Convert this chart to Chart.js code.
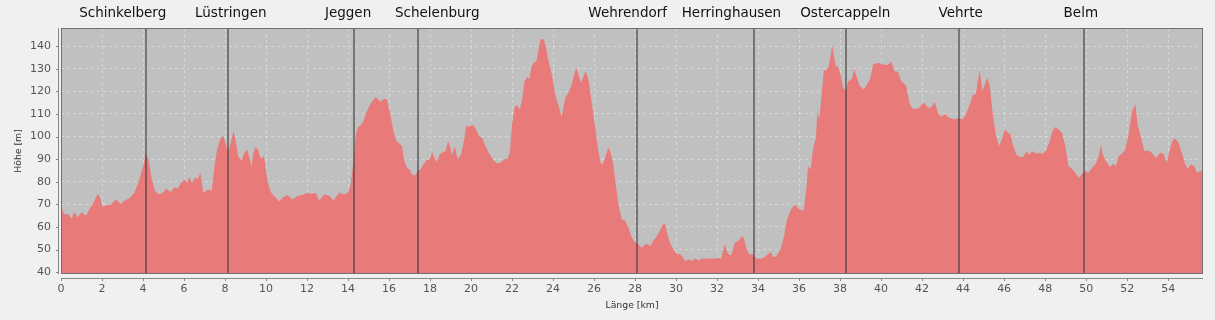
<!DOCTYPE html>
<html>
<head>
<meta charset="utf-8">
<script src="https://cdn.jsdelivr.net/npm/chart.js@4.4.0/dist/chart.umd.min.js"></script>
<style>
  html, body { margin: 0; padding: 0; background: #f0f0f0; }
  canvas { display: block; }
</style>
</head>
<body>
<canvas id="profil" width="1215" height="320"></canvas>
<script>
// Höhenprofil – Strecke Schinkelberg .. Belm
const distKm = [
  0, 0.16, 0.33, 0.52, 0.65, 0.81, 1.0, 1.22, 1.38, 1.59, 1.79, 1.9, 2.03, 2.2, 2.44, 2.68, 2.93, 3.09, 3.33, 3.58,
  3.82, 4.03, 4.15, 4.26, 4.42, 4.59, 4.8, 4.96, 5.15, 5.33, 5.53, 5.69, 5.85, 6.02, 6.15, 6.26, 6.39, 6.54, 6.67, 6.8,
  6.94, 7.1, 7.27, 7.35, 7.48, 7.61, 7.8, 7.93, 8.15, 8.28, 8.41, 8.52, 8.64, 8.8, 8.96, 9.09, 9.17, 9.29, 9.38, 9.5,
  9.61, 9.74, 9.9, 10.07, 10.23, 10.47, 10.64, 10.8, 11.04, 11.29, 11.53, 11.77, 12.02, 12.26, 12.42, 12.59, 12.83, 13.08, 13.29, 13.56,
  13.81, 14.0, 14.13, 14.26, 14.38, 14.49, 14.62, 14.75, 14.91, 15.08, 15.24, 15.35, 15.47, 15.6, 15.76, 15.9, 16.06, 16.23, 16.36, 16.47,
  16.63, 16.75, 16.88, 17.01, 17.12, 17.28, 17.4, 17.53, 17.69, 17.82, 17.98, 18.1, 18.21, 18.34, 18.47, 18.63, 18.75, 18.88, 18.99, 19.09,
  19.2, 19.35, 19.51, 19.64, 19.77, 19.9, 20.05, 20.21, 20.37, 20.54, 20.7, 20.91, 21.11, 21.27, 21.43, 21.63, 21.79, 21.89, 22.0, 22.12,
  22.25, 22.38, 22.49, 22.61, 22.74, 22.84, 22.95, 23.06, 23.19, 23.31, 23.39, 23.55, 23.66, 23.76, 23.94, 24.1, 24.26, 24.42, 24.59, 24.75,
  24.91, 25.03, 25.13, 25.24, 25.35, 25.48, 25.59, 25.72, 25.89, 26.05, 26.21, 26.34, 26.46, 26.59, 26.7, 26.81, 26.94, 27.08, 27.19, 27.35,
  27.51, 27.68, 27.84, 28.0, 28.17, 28.33, 28.49, 28.62, 28.74, 28.86, 29.03, 29.19, 29.35, 29.46, 29.58, 29.74, 29.9, 30.07, 30.2, 30.33,
  30.44, 30.61, 30.77, 30.93, 31.1, 31.26, 31.5, 31.78, 31.89, 32.05, 32.21, 32.37, 32.53, 32.7, 32.86, 33.02, 33.19, 33.27, 33.43, 33.56,
  33.72, 33.92, 34.16, 34.32, 34.49, 34.62, 34.73, 34.89, 35.09, 35.25, 35.41, 35.58, 35.79, 35.95, 36.12, 36.23, 36.36, 36.44, 36.56, 36.69,
  36.82, 36.9, 36.98, 37.1, 37.21, 37.31, 37.42, 37.53, 37.61, 37.7, 37.79, 37.9, 38.02, 38.15, 38.28, 38.39, 38.56, 38.69, 38.8, 38.96,
  39.16, 39.32, 39.48, 39.61, 39.72, 39.84, 40.08, 40.33, 40.49, 40.65, 40.82, 40.98, 41.22, 41.38, 41.51, 41.68, 41.84, 41.95, 42.12, 42.28,
  42.44, 42.61, 42.77, 42.93, 43.1, 43.26, 43.5, 43.75, 43.99, 44.15, 44.32, 44.48, 44.61, 44.72, 44.81, 44.94, 45.05, 45.18, 45.3, 45.43,
  45.59, 45.75, 45.92, 46.03, 46.19, 46.31, 46.44, 46.6, 46.76, 46.93, 47.09, 47.22, 47.38, 47.58, 47.71, 47.87, 48.04, 48.2, 48.36, 48.49,
  48.65, 48.82, 48.98, 49.14, 49.31, 49.47, 49.63, 49.8, 49.96, 50.12, 50.28, 50.45, 50.61, 50.72, 50.8, 50.97, 51.16, 51.32, 51.45, 51.58,
  51.75, 51.91, 52.07, 52.24, 52.4, 52.51, 52.68, 52.84, 53.0, 53.16, 53.33, 53.44, 53.6, 53.77, 53.93, 54.06, 54.22, 54.35, 54.51, 54.68,
  54.84, 54.95, 55.12, 55.28, 55.41, 55.56, 55.7
];
const elevM = [
  69.2, 65.5, 65.8, 63.7, 66.7, 64.3, 66.5, 65, 67.7, 70.7, 74.7, 73.2, 68.9, 69.6, 69.9, 72.2, 70.2, 71.7, 72.6, 75.1,
  81, 87.6, 92.8, 89.9, 81.7, 75.8, 74.4, 75.1, 77, 75.4, 77.6, 76.9, 79.5, 81, 79.5, 82, 79.5, 82, 81, 84.2,
  75.1, 76.1, 76.6, 75.8, 86.2, 94.3, 99.4, 100.2, 93.2, 97.2, 102.4, 98, 91.3, 89.4, 93.2, 94, 91.3, 86.9, 92.8, 95.5,
  94, 90.3, 91.3, 80.3, 75.5, 72.9, 71.4, 72.9, 74.1, 72.2, 73.7, 74.1, 75.1, 74.7, 75.1, 71.7, 74.4, 73.9, 71.7, 75.1,
  74.4, 75.1, 78.8, 89.1, 100.9, 104.2, 105, 106.8, 110.9, 114.2, 116.4, 117.4, 116.4, 115.4, 116.8, 116.4, 109.8, 101.7, 98, 97.2,
  95.8, 89.1, 86.2, 85.4, 83.2, 82.8, 84.7, 85.4, 87.9, 89.4, 89.9, 93.2, 90.6, 88.8, 92.1, 93.2, 93.5, 98, 95, 91.7,
  95.8, 89.9, 92.1, 97.2, 105, 104.2, 105.3, 103.9, 100.6, 99.4, 95.8, 92.1, 89.4, 88.2, 88.4, 89.9, 90.3, 92.8, 105.3, 112.7,
  113.9, 112, 116.4, 124.5, 126.3, 125.3, 131.2, 132.6, 133.4, 139.3, 143, 143, 139.3, 134.1, 127.5, 118.6, 113.9, 108.6, 117.1, 119.4,
  123, 127.5, 130.4, 127.5, 123.8, 126.3, 128.9, 125.3, 114.9, 103.9, 93.5, 87.6, 88.4, 92.1, 95.3, 92.8, 87.6, 77.3, 69.9, 63.3,
  62.9, 59.6, 55.2, 53.4, 52.2, 50.8, 52.2, 52.5, 51.5, 53.7, 55.5, 58.1, 61.1, 61.4, 56.4, 52.2, 49.6, 47.8, 48.1, 46.6,
  44.9, 45.6, 44.9, 46.1, 45.2, 46.1, 45.9, 46.1, 45.9, 46.3, 46.1, 52.5, 48.1, 47.5, 53, 53.7, 55.5, 55.9, 50.8, 47.8,
  48.1, 46.1, 46.1, 46.6, 48.1, 49, 46.6, 47.1, 50.1, 55.2, 63.3, 67.3, 69.9, 68.5, 67.3, 67.7, 77.3, 86.9, 85.4, 95,
  99.4, 112, 107.5, 118.6, 129.7, 129, 130.4, 135.6, 140.4, 135.6, 131.2, 130.7, 127.5, 121.6, 120.1, 124.5, 125.3, 129.7, 126.7, 122.3,
  120.8, 123, 126, 131.9, 132.2, 132.6, 131.9, 131.6, 133.4, 128.9, 128.6, 124.5, 122.7, 114.9, 112.4, 112.4, 112.4, 113.9, 114.9, 112.7,
  113, 115.4, 110.5, 108.6, 110.1, 108.6, 107.6, 108, 107.6, 110.1, 114.2, 118.6, 118.6, 124.5, 129.2, 120.1, 123, 126, 122.3, 111.2,
  100.9, 95.8, 99.4, 103.1, 101.7, 100.9, 95.8, 92.1, 90.9, 90.9, 93.5, 92.1, 93.5, 92.4, 92.8, 92.4, 93.8, 97.2, 102.4, 104.2,
  103.1, 101.7, 95.8, 86.9, 85.8, 84, 81.7, 83.5, 84.7, 84, 86.2, 87.6, 91.3, 96.2, 92.4, 89.1, 86.5, 88, 86.9, 91.3,
  92.4, 94.3, 100.9, 111.2, 114.5, 105.3, 99.4, 93.5, 93.8, 93.2, 91.3, 90.6, 92.8, 92.4, 88.4, 93.5, 98.3, 99.1, 97.2, 92.4,
  87.6, 85.8, 87.6, 86.9, 84, 84.7, 84.4
];

// Orte entlang der Strecke
const placeNames = ['Schinkelberg', 'Lüstringen', 'Jeggen', 'Schelenburg', 'Wehrendorf', 'Herringhausen', 'Ostercappeln', 'Vehrte', 'Belm'];
const placeKm = [4.17, 8.16, 14.3, 17.39, 28.09, 33.78, 38.28, 43.79, 49.88];

const xTicks = [0, 2, 4, 6, 8, 10, 12, 14, 16, 18, 20, 22, 24, 26, 28, 30, 32, 34, 36, 38, 40, 42, 44, 46, 48, 50, 52, 54];
const yTicks = [40, 50, 60, 70, 80, 90, 100, 110, 120, 130, 140];

// Beschriftungen etwas verschoben, damit sie sich nicht überlappen
const labelKm = [3.01, 8.28, 14.0, 18.35, 27.64, 32.7, 38.25, 43.88, 49.74];

const FONT = '"DejaVu Sans", sans-serif';

const profilPlugin = {
  id: 'profil',
  beforeDraw(chart) {
    const c = chart.ctx, a = chart.chartArea;
    c.save();
    c.fillStyle = '#f0f0f0';
    c.fillRect(0, 0, chart.width, chart.height);
    c.fillStyle = '#c0c0c0';
    c.fillRect(a.left, a.top, a.right - a.left, a.bottom - a.top);
    c.restore();
  },
  afterDraw(chart) {
    const c = chart.ctx, a = chart.chartArea;
    const xs = chart.scales.x, ys = chart.scales.y;
    c.save();

    // Ortslinien
    c.strokeStyle = 'rgba(55,55,55,0.55)';
    c.lineWidth = 2;
    placeKm.forEach(km => {
      const px = Math.round(xs.getPixelForValue(km));
      c.beginPath();
      c.moveTo(px, a.top);
      c.lineTo(px, a.bottom);
      c.stroke();
    });

    // Rahmen
    c.strokeStyle = '#707070';
    c.lineWidth = 1;
    c.strokeRect(a.left + 0.5, a.top + 0.5, a.right - a.left - 1, a.bottom - a.top - 1);

    // Achsenlinien (leicht abgesetzt)
    c.strokeStyle = '#888';
    c.beginPath();
    c.moveTo(a.left - 2.5, a.top);
    c.lineTo(a.left - 2.5, a.bottom);
    yTicks.forEach(v => {
      const py = Math.round(ys.getPixelForValue(v)) + 0.5;
      c.moveTo(a.left - 5, py);
      c.lineTo(a.left - 2.5, py);
    });
    c.moveTo(a.left, a.bottom + 4.5);
    c.lineTo(a.right, a.bottom + 4.5);
    xTicks.forEach(v => {
      const px = Math.round(xs.getPixelForValue(v)) + 0.5;
      c.moveTo(px, a.bottom + 4.5);
      c.lineTo(px, a.bottom + 7);
    });
    c.stroke();

    // Ortsnamen
    c.fillStyle = '#111';
    c.font = '13.5px ' + FONT;
    c.textAlign = 'center';
    c.textBaseline = 'middle';
    placeNames.forEach((name, i) => {
      c.fillText(name, xs.getPixelForValue(labelKm[i]), 13);
    });

    // Achsentitel
    c.fillStyle = '#333';
    c.font = '9.3px ' + FONT;
    c.fillText('Länge [km]', (a.left + a.right) / 2, 306);
    c.translate(19, (a.top + a.bottom) / 2);
    c.rotate(-Math.PI / 2);
    c.fillText('Höhe [m]', 0, 0);
    c.restore();
  }
};

const ctx = document.getElementById('profil');
const chart = new Chart(ctx, {
  type: 'line',
  data: {
    datasets: [{
      data: distKm.map((x, i) => ({ x: x, y: elevM[i] })),
      fill: 'start',
      backgroundColor: '#e87a7a',
      borderWidth: 0,
      pointRadius: 0,
      tension: 0
    }]
  },
  options: {
    responsive: false,
    animation: false,
    devicePixelRatio: 1,
    layout: { padding: { top: 28, right: 12, left: 0, bottom: 0 } },
    plugins: {
      legend: { display: false },
      tooltip: { enabled: false }
    },
    scales: {
      x: {
        type: 'linear',
        min: 0,
        max: 55.7,
        z: 1,
        afterFit: s => { s.height = 46; },
        afterBuildTicks: s => { s.ticks = xTicks.map(v => ({ value: v })); },
        border: { display: false, dash: [3, 3] },
        grid: { color: 'rgba(255,255,255,0.35)', drawTicks: false },
        ticks: { color: '#555', padding: 9, font: { family: FONT, size: 11 }, maxRotation: 0 }
      },
      y: {
        min: 39.2,
        max: 148,
        z: 1,
        afterFit: s => { s.width = 61; },
        afterBuildTicks: s => { s.ticks = yTicks.map(v => ({ value: v })); },
        border: { display: false, dash: [3, 3] },
        grid: { color: 'rgba(255,255,255,0.35)', drawTicks: false },
        ticks: { color: '#555', padding: 10, font: { family: FONT, size: 11 } }
      }
    }
  },
  plugins: [profilPlugin]
});
</script>
</body>
</html>
